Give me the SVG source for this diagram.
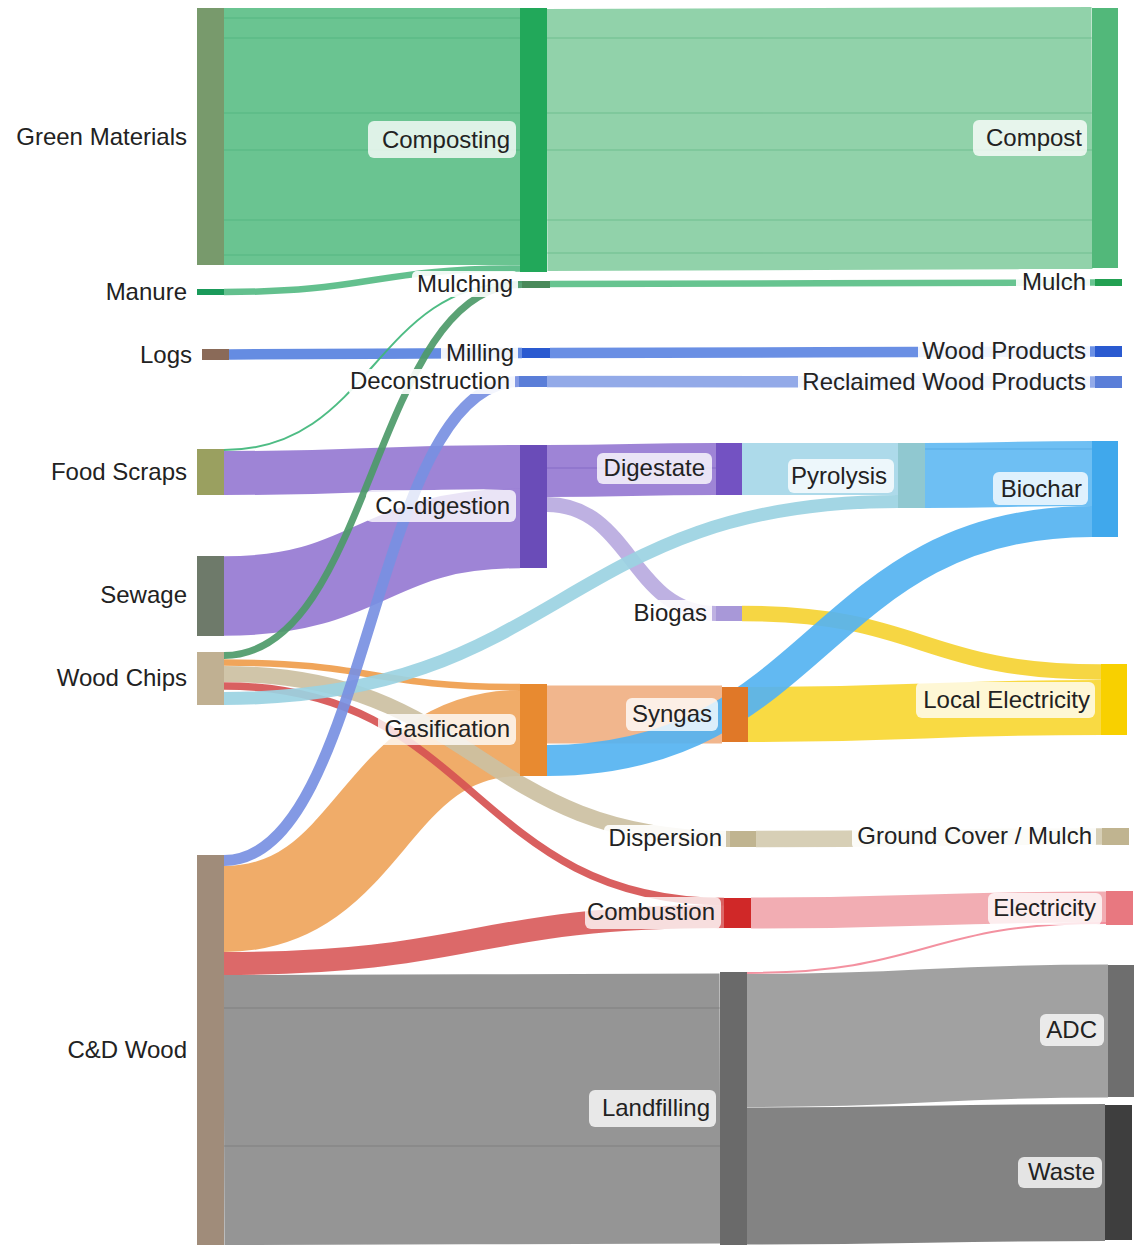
<svg xmlns="http://www.w3.org/2000/svg" width="1134" height="1245" viewBox="0 0 1134 1245">
<style>
.lk{fill:none;stroke-linecap:butt;opacity:0.92}
.sub{fill:none;stroke-width:1;opacity:0.35}
text{font-family:"Liberation Sans",Arial,Helvetica,sans-serif;font-size:24px;fill:#222}
.r{text-anchor:end}
.bx{fill:#fff;opacity:0.78}
.bw{fill:#fff;opacity:0.9}
</style>
<rect width="1134" height="1245" fill="#fff"/>
<g id="connectors">
  <path class="lk" stroke="#8c8c8c" stroke-width="270" d="M224 1110 C472 1110 472 1108.5 720 1108.5"/>
  <path class="lk" stroke="#999999" stroke-width="133" d="M747 1040.5 C927 1040.5 927 1031 1108 1031"/>
  <path class="lk" stroke="#787878" stroke-width="137" d="M747 1176 C926 1176 926 1172.5 1105 1172.5"/>
  <path class="lk" stroke="#5dbf88" stroke-width="257" d="M224 136.5 H520"/>
  <path class="lk" stroke="#88cea3" stroke-width="262" d="M547 140 C819 140 819 138 1092 138"/>
  <g class="sub" stroke="#2f9a60">
    <path d="M224 18 H520 M224 38 H520 M224 113 H520 M224 150 H520 M224 220 H520 M224 255 H520"/>
    <path d="M547 38 H1092 M547 113 H1092 M547 150 H1092 M547 220 H1092 M547 253 H1092"/>
  </g>
  <g class="sub" stroke="#555">
    <path d="M224 1008 H720 M224 1146 H720"/>
  </g>
  <path class="lk" stroke="#56bb84" stroke-width="6.5" d="M224 292 C372 292 372 268.5 520 268.5"/>
  <path class="lk" stroke="#5abf87" stroke-width="6.5" d="M550 284 C822 284 822 282.5 1095 282.5"/>
  <path class="lk" stroke="#5882e0" stroke-width="10.5" d="M229 354.5 C375 354.5 375 353 522 353"/>
  <path class="lk" stroke="#5d86e2" stroke-width="10.5" d="M550 353 C822 353 822 351.5 1095 351.5"/>
  <path class="lk" stroke="#8aa3e6" stroke-width="11.5" d="M547 381.5 C821 381.5 821 382 1095 382"/>
  <path class="lk" stroke="#9679d2" stroke-width="44" d="M224 473 C372 473 372 467 520 467"/>
  <path class="lk" stroke="#9679d2" stroke-width="79.5" d="M224 596 C372 596 372 528.5 520 528.5"/>
  <path class="lk" stroke="#9679d2" stroke-width="52" d="M547 471 C631 471 631 469 716 469"/>
  <path class="sub" stroke="#5a3aa8" d="M547 468 H716"/>
  <path class="lk" stroke="#b9aae0" stroke-width="15" d="M547 504.5 C631 504.5 631 613.5 716 613.5"/>
  <path class="lk" stroke="#a6d7e8" stroke-width="52" d="M742 469 H898"/>
  <path class="lk" stroke="#62baf2" stroke-width="65" d="M925 475.5 C1008 475.5 1008 473.5 1092 473.5"/>
  <path class="sub" stroke="#2a88c8" d="M925 449 H1092"/>
  <path class="lk" stroke="#efa55c" stroke-width="86" d="M224 909 C372 909 372 733 520 733"/>
  <path class="lk" stroke="#f0b083" stroke-width="58" d="M547 714.5 C634 714.5 634 714.5 722 714.5"/>
  <path class="lk" stroke="#f8d733" stroke-width="55" d="M748 714.5 C924 714.5 924 707.5 1101 707.5"/>
  <path class="lk" stroke="#f5d333" stroke-width="15.5" d="M742 613.5 C922 613.5 922 672 1101 672"/>
  <path class="lk" stroke="#55b3f1" stroke-width="31" d="M547 760.5 C819 760.5 819 521.5 1092 521.5"/>
  <path class="lk" stroke="#ef9d4c" stroke-width="6.5" d="M224 662.5 C372 662.5 372 687 520 687"/>
  <path class="lk" stroke="#ccc0a2" stroke-width="16" d="M224 674 C477 674 477 839 730 839"/>
  <path class="lk" stroke="#d4cbb0" stroke-width="16.5" d="M756 839 C929 839 929 836.5 1102 836.5"/>
  <path class="lk" stroke="#d95c5c" stroke-width="23" d="M224 963.5 C474 963.5 474 916.5 724 916.5"/>
  <path class="lk" stroke="#d65252" stroke-width="7.5" d="M224 686 C474 686 474 901.5 724 901.5"/>
  <path class="lk" stroke="#f1a6ad" stroke-width="31" d="M751 913 C928 913 928 907 1106 907"/>
  <path class="lk" stroke="#f28898" stroke-width="2" d="M747 973 C926 973 926 923 1106 923"/>
  <path class="lk" stroke="#9bd3e2" stroke-width="13" d="M224 698.5 C561 698.5 561 501.5 898 501.5"/>
  <path class="lk" stroke="#3fb67a" stroke-width="2" d="M224 450 C373 450 373 282 522 282"/>
  <path class="lk" stroke="#4d9a69" stroke-width="7" d="M224 655.5 C373 655.5 373 284.5 522 284.5"/>
  <path class="lk" stroke="#7890e2" stroke-width="11" d="M224 860.5 C371 860.5 371 381.5 519 381.5"/>
</g>

<g id="node-green-materials"><rect x="197" y="8" width="27" height="257" fill="#789a6c"/><text class="r" x="187" y="145">Green Materials</text></g>
<g id="node-manure"><rect x="197" y="289" width="27" height="6" fill="#1a9a5a"/><text class="r" x="187" y="300">Manure</text></g>
<g id="node-logs"><rect x="202" y="349" width="27" height="11" fill="#8a6a58"/><text class="r" x="192" y="363">Logs</text></g>
<g id="node-food-scraps"><rect x="197" y="449" width="27" height="46" fill="#9aa060"/><text class="r" x="187" y="480">Food Scraps</text></g>
<g id="node-sewage"><rect x="197" y="556" width="27" height="80" fill="#6e7a6a"/><text class="r" x="187" y="603">Sewage</text></g>
<g id="node-wood-chips"><rect x="197" y="652" width="27" height="53" fill="#c0b092"/><text class="r" x="187" y="686">Wood Chips</text></g>
<g id="node-cd-wood"><rect x="197" y="855" width="27" height="390" fill="#a08c7a"/><text class="r" x="187" y="1058">C&amp;D Wood</text></g>

<g id="node-composting"><rect x="520" y="8" width="27" height="264" fill="#22a85a"/><rect class="bx" x="368" y="121" width="148" height="37" rx="6"/><text class="r" x="510" y="148">Composting</text></g>
<g id="node-mulching"><rect x="522" y="281" width="28" height="7" fill="#4a8a5a"/><rect class="bw" x="412" y="271" width="106" height="26" rx="5"/><text class="r" x="513" y="292">Mulching</text></g>
<g id="node-milling"><rect x="522" y="348" width="28" height="10" fill="#2a5ad0"/><rect class="bw" x="441" y="341" width="77" height="26" rx="5"/><text class="r" x="514" y="361">Milling</text></g>
<g id="node-deconstruction"><rect x="519" y="376" width="28" height="11" fill="#5a7ed8"/><rect class="bw" x="348" y="369" width="167" height="25" rx="5"/><text class="r" x="510" y="389">Deconstruction</text></g>
<g id="node-co-digestion"><rect x="520" y="445" width="27" height="123" fill="#6a4cb8"/><rect class="bx" x="366" y="490" width="150" height="32" rx="6"/><text class="r" x="510" y="514">Co-digestion</text></g>
<g id="node-gasification"><rect x="520" y="684" width="27" height="92" fill="#e88a30"/><rect class="bx" x="378" y="714" width="138" height="31" rx="6"/><text class="r" x="510" y="737">Gasification</text></g>

<g id="node-digestate"><rect x="716" y="443" width="26" height="52" fill="#7352c2"/><rect class="bx" x="597" y="453" width="115" height="31" rx="6"/><text class="r" x="705" y="476">Digestate</text></g>
<g id="node-biogas"><rect x="716" y="606" width="26" height="15" fill="#a898d8"/><rect class="bw" x="630" y="600" width="82" height="27" rx="5"/><text class="r" x="707" y="621">Biogas</text></g>
<g id="node-syngas"><rect x="722" y="687" width="26" height="55" fill="#e07828"/><rect class="bx" x="626" y="698" width="92" height="33" rx="6"/><text class="r" x="712" y="722">Syngas</text></g>
<g id="node-dispersion"><rect x="730" y="831" width="26" height="16" fill="#c0b490"/><rect class="bw" x="604" y="825" width="122" height="27" rx="5"/><text class="r" x="722" y="846">Dispersion</text></g>
<g id="node-combustion"><rect x="724" y="898" width="27" height="30" fill="#d02828"/><rect class="bx" x="585" y="897" width="136" height="32" rx="6"/><text class="r" x="715" y="920">Combustion</text></g>
<g id="node-landfilling"><rect x="720" y="972" width="27" height="273" fill="#6a6a6a"/><rect class="bx" x="589" y="1090" width="127" height="37" rx="6"/><text class="r" x="710" y="1116">Landfilling</text></g>

<g id="node-pyrolysis"><rect x="898" y="443" width="27" height="65" fill="#90c8d0"/><rect class="bx" x="788" y="459" width="106" height="34" rx="6"/><text class="r" x="887" y="484">Pyrolysis</text></g>

<g id="node-compost"><rect x="1092" y="8" width="26" height="260" fill="#52b87a"/><rect class="bx" x="973" y="120" width="114" height="36" rx="6"/><text class="r" x="1082" y="146">Compost</text></g>
<g id="node-mulch"><rect x="1095" y="279" width="27" height="7" fill="#22a052"/><rect class="bw" x="1016" y="269" width="74" height="26" rx="5"/><text class="r" x="1086" y="290">Mulch</text></g>
<g id="node-wood-products"><rect x="1095" y="346" width="27" height="11" fill="#2a5ad0"/><rect class="bw" x="918" y="339" width="172" height="25" rx="5"/><text class="r" x="1086" y="359">Wood Products</text></g>
<g id="node-reclaimed-wood-products"><rect x="1095" y="376" width="27" height="12" fill="#5a7ed8"/><rect class="bw" x="798" y="369" width="292" height="26" rx="5"/><text class="r" x="1086" y="390">Reclaimed Wood Products</text></g>
<g id="node-biochar"><rect x="1092" y="441" width="26" height="96" fill="#40a8ec"/><rect class="bx" x="993" y="472" width="95" height="33" rx="6"/><text class="r" x="1082" y="497">Biochar</text></g>
<g id="node-local-electricity"><rect x="1101" y="664" width="26" height="71" fill="#f8d000"/><rect class="bx" x="916" y="682" width="179" height="36" rx="6"/><text class="r" x="1090" y="708">Local Electricity</text></g>
<g id="node-ground-cover"><rect x="1102" y="828" width="27" height="17" fill="#c0b490"/><rect class="bw" x="852" y="822" width="244" height="27" rx="5"/><text class="r" x="1092" y="844">Ground Cover / Mulch</text></g>
<g id="node-electricity"><rect x="1106" y="891" width="27" height="34" fill="#e87880"/><rect class="bx" x="988" y="893" width="114" height="32" rx="6"/><text class="r" x="1096" y="916">Electricity</text></g>
<g id="node-adc"><rect x="1108" y="965" width="26" height="132" fill="#6e6e6e"/><rect class="bx" x="1040" y="1014" width="64" height="32" rx="6"/><text class="r" x="1097" y="1038">ADC</text></g>
<g id="node-waste"><rect x="1105" y="1105" width="27" height="135" fill="#3e3e3e"/><rect class="bx" x="1018" y="1157" width="84" height="31" rx="6"/><text class="r" x="1095" y="1180">Waste</text></g>
</svg>
